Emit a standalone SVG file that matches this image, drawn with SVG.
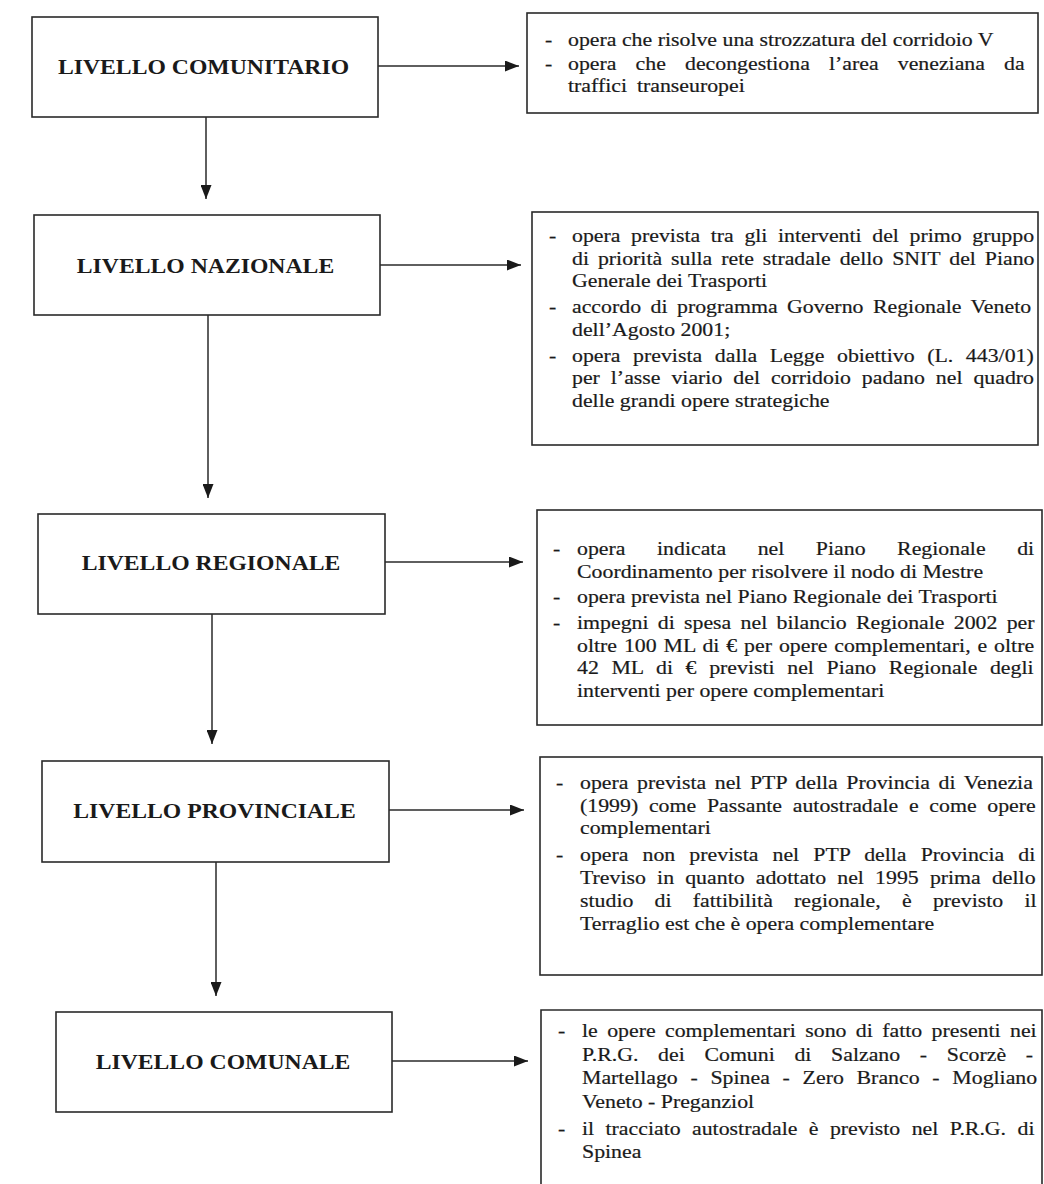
<svg xmlns="http://www.w3.org/2000/svg" width="1044" height="1184" viewBox="0 0 1044 1184">
<style>
.box{fill:#fff;stroke:#2a2a2a;stroke-width:1.6}
.lbl{font-family:"Liberation Serif","Times New Roman",serif;font-weight:bold;font-size:22px;fill:#1a1a1a;text-anchor:middle}
.t{font-family:"Liberation Serif","Times New Roman",serif;font-size:19.5px;fill:#1a1a1a;stroke:#1a1a1a;stroke-width:0.2}
.c{stroke:#2a2a2a;stroke-width:1.5;fill:none}
</style>
<defs>
<marker id="ah" markerUnits="userSpaceOnUse" markerWidth="14" markerHeight="11" refX="14" refY="5.5" orient="auto">
<path d="M0,0 L14,5.5 L0,11 z" fill="#1a1a1a"/>
</marker>
</defs>
<rect width="1044" height="1184" fill="#fff"/>

<g id="connectors">
<line class="c" x1="378" y1="66" x2="519" y2="66" marker-end="url(#ah)"/>
<line class="c" x1="380" y1="265" x2="521" y2="265" marker-end="url(#ah)"/>
<line class="c" x1="385" y1="562" x2="523" y2="562" marker-end="url(#ah)"/>
<line class="c" x1="389" y1="810" x2="524" y2="810" marker-end="url(#ah)"/>
<line class="c" x1="392" y1="1061" x2="528" y2="1061" marker-end="url(#ah)"/>
<line class="c" x1="206" y1="117" x2="206" y2="199" marker-end="url(#ah)"/>
<line class="c" x1="208" y1="315" x2="208" y2="498" marker-end="url(#ah)"/>
<line class="c" x1="212" y1="614" x2="212" y2="744" marker-end="url(#ah)"/>
<line class="c" x1="216" y1="862" x2="216" y2="996" marker-end="url(#ah)"/>
</g>

<g id="livello-comunitario">
<rect class="box" x="32" y="17" width="346" height="100"/>
<text class="lbl" transform="translate(203.5 73.5) scale(1.077 1)">LIVELLO COMUNITARIO</text>
</g>
<g id="livello-nazionale">
<rect class="box" x="34" y="215" width="346" height="100"/>
<text class="lbl" transform="translate(205.5 272.5) scale(1.077 1)">LIVELLO NAZIONALE</text>
</g>
<g id="livello-regionale">
<rect class="box" x="38" y="514" width="347" height="100"/>
<text class="lbl" transform="translate(211 569.5) scale(1.077 1)">LIVELLO REGIONALE</text>
</g>
<g id="livello-provinciale">
<rect class="box" x="42" y="761" width="347" height="101"/>
<text class="lbl" transform="translate(214.5 817.5) scale(1.077 1)">LIVELLO PROVINCIALE</text>
</g>
<g id="livello-comunale">
<rect class="box" x="56" y="1012" width="336" height="100"/>
<text class="lbl" transform="translate(223 1068.5) scale(1.077 1)">LIVELLO COMUNALE</text>
</g>

<g id="note-comunitario">
<rect class="box" x="527" y="13" width="511" height="100"/>
<text class="t" transform="translate(545 46) scale(1.12 1)">-</text>
<text class="t" transform="translate(568 46) scale(1.12 1)">opera che risolve una strozzatura del corridoio V</text>
<text class="t" transform="translate(545 70) scale(1.12 1)">-</text>
<text class="t" transform="translate(568 70) scale(1.12 1)" style="word-spacing:12.2px">opera che decongestiona l’area veneziana da</text>
<text class="t" transform="translate(568 92) scale(1.12 1)" style="word-spacing:4px">traffici transeuropei</text>
</g>

<g id="note-nazionale">
<rect class="box" x="532" y="212" width="506" height="233"/>
<text class="t" transform="translate(549 242) scale(1.12 1)">-</text>
<text class="t" transform="translate(572 242) scale(1.12 1)" style="word-spacing:4.6px">opera prevista tra gli interventi del primo gruppo</text>
<text class="t" transform="translate(572 264.5) scale(1.12 1)" style="word-spacing:3.1px">di priorità sulla rete stradale dello SNIT del Piano</text>
<text class="t" transform="translate(572 287) scale(1.12 1)">Generale dei Trasporti</text>
<text class="t" transform="translate(549 313) scale(1.12 1)">-</text>
<text class="t" transform="translate(572 313) scale(1.12 1)" style="word-spacing:3.6px">accordo di programma Governo Regionale Veneto</text>
<text class="t" transform="translate(572 335.5) scale(1.12 1)">dell’Agosto 2001;</text>
<text class="t" transform="translate(549 361.5) scale(1.12 1)">-</text>
<text class="t" transform="translate(572 361.5) scale(1.12 1)" style="word-spacing:6.4px">opera prevista dalla Legge obiettivo (L. 443/01)</text>
<text class="t" transform="translate(572 384) scale(1.12 1)" style="word-spacing:4.9px">per l’asse viario del corridoio padano nel quadro</text>
<text class="t" transform="translate(572 406.5) scale(1.12 1)">delle grandi opere strategiche</text>
</g>

<g id="note-regionale">
<rect class="box" x="537" y="510" width="505" height="215"/>
<text class="t" transform="translate(553 555) scale(1.12 1)">-</text>
<text class="t" transform="translate(577 555) scale(1.12 1)" style="word-spacing:23.3px">opera indicata nel Piano Regionale di</text>
<text class="t" transform="translate(577 577.5) scale(1.12 1)">Coordinamento per risolvere il nodo di Mestre</text>
<text class="t" transform="translate(553 603) scale(1.12 1)">-</text>
<text class="t" transform="translate(577 603) scale(1.12 1)">opera prevista nel Piano Regionale dei Trasporti</text>
<text class="t" transform="translate(553 629) scale(1.12 1)">-</text>
<text class="t" transform="translate(577 629) scale(1.12 1)" style="word-spacing:3.4px">impegni di spesa nel bilancio Regionale 2002 per</text>
<text class="t" transform="translate(577 651.5) scale(1.12 1)" style="word-spacing:1.3px">oltre 100 ML di € per opere complementari, e oltre</text>
<text class="t" transform="translate(577 674) scale(1.12 1)" style="word-spacing:6.4px">42 ML di € previsti nel Piano Regionale degli</text>
<text class="t" transform="translate(577 696.5) scale(1.12 1)">interventi per opere complementari</text>
</g>

<g id="note-provinciale">
<rect class="box" x="540" y="757" width="502" height="218"/>
<text class="t" transform="translate(556 789) scale(1.12 1)">-</text>
<text class="t" transform="translate(580 789) scale(1.12 1)" style="word-spacing:2.8px">opera prevista nel PTP della Provincia di Venezia</text>
<text class="t" transform="translate(580 811.5) scale(1.12 1)" style="word-spacing:4.7px">(1999) come Passante autostradale e come opere</text>
<text class="t" transform="translate(580 834) scale(1.12 1)">complementari</text>
<text class="t" transform="translate(556 861) scale(1.12 1)">-</text>
<text class="t" transform="translate(580 861) scale(1.12 1)" style="word-spacing:7.7px">opera non prevista nel PTP della Provincia di</text>
<text class="t" transform="translate(580 884) scale(1.12 1)" style="word-spacing:5.1px">Treviso in quanto adottato nel 1995 prima dello</text>
<text class="t" transform="translate(580 907) scale(1.12 1)" style="word-spacing:14.1px">studio di fattibilità regionale, è previsto il</text>
<text class="t" transform="translate(580 930) scale(1.12 1)">Terraglio est che è opera complementare</text>
</g>

<g id="note-comunale">
<path class="box" d="M541,1190 V1010 H1042 V1190"/>
<text class="t" transform="translate(558 1037) scale(1.12 1)">-</text>
<text class="t" transform="translate(582 1037) scale(1.12 1)" style="word-spacing:3.5px">le opere complementari sono di fatto presenti nei</text>
<text class="t" transform="translate(582 1060.5) scale(1.12 1)" style="word-spacing:12.7px">P.R.G. dei Comuni di Salzano - Scorzè -</text>
<text class="t" transform="translate(582 1084) scale(1.12 1)" style="word-spacing:6.5px">Martellago - Spinea - Zero Branco - Mogliano</text>
<text class="t" transform="translate(582 1107.5) scale(1.12 1)">Veneto - Preganziol</text>
<text class="t" transform="translate(558 1134.5) scale(1.12 1)">-</text>
<text class="t" transform="translate(582 1134.5) scale(1.12 1)" style="word-spacing:5.3px">il tracciato autostradale è previsto nel P.R.G. di</text>
<text class="t" transform="translate(582 1158) scale(1.12 1)">Spinea</text>
</g>
</svg>
